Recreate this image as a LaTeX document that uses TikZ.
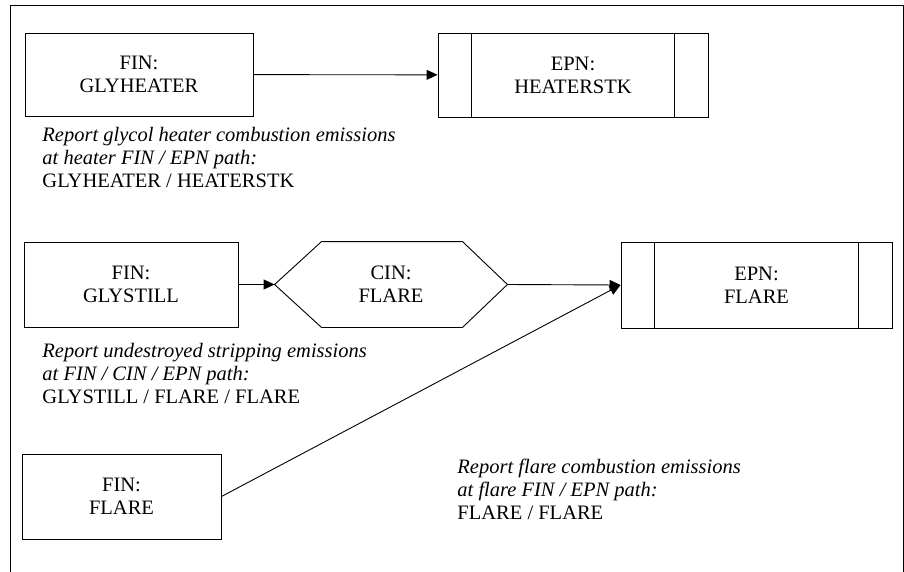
\documentclass[tikz,border=0pt]{standalone}
\usepackage{fontspec}
\setmainfont{Liberation Serif}
\usetikzlibrary{positioning, arrows.meta}

\begin{document}
\begin{tikzpicture}[
        x=1pt, y=-1pt,
        >={Triangle[length=11pt, width=10pt]},
        line width=0.9pt,
        fin/.style={draw, rectangle, align=center, inner sep=0pt, font=\fontsize{20.5}{23}\selectfont},
        epn/.style={fin},
        cin/.style={rectangle, align=center, inner sep=0pt, font=\fontsize{20.5}{23}\selectfont},
        note/.style={anchor=west, align=left, inner sep=0pt, font=\fontsize{20.5}{23}\selectfont},
    ]
    \useasboundingbox (0,0) rectangle (904,571);

        % Draw the outer frame
        \draw (903,580) -- (903,5) -- (10,5) -- (10,580);

        % Draw the source (FIN) boxes
        \node[fin, minimum width=228pt, minimum height=83pt] (FIN-heater) at (139,74.5) {FIN:\\GLYHEATER};
        \node[fin, minimum width=214pt, minimum height=85pt] (FIN-still) at (131,284.5) {FIN:\\GLYSTILL};
        \node[fin, minimum width=199pt, minimum height=85pt] (FIN-flare) at (121.5,496.5) {FIN:\\FLARE};

        % Draw the control (CIN) hexagon
        \node[cin, minimum width=232pt, minimum height=85pt] (CIN-flare) at (391,284.5) {CIN:\\FLARE};
        \draw (CIN-flare.west) -- ([xshift=47pt]CIN-flare.north west) -- ([xshift=-45pt]CIN-flare.north east)
            -- (CIN-flare.east) -- ([xshift=-45pt]CIN-flare.south east) -- ([xshift=47pt]CIN-flare.south west) -- cycle;

        % Draw the emission point (EPN) boxes
        \node[epn, minimum width=270pt, minimum height=84pt] (EPN-heater) at (573,75) {EPN:\\HEATERSTK};
        \node[epn, minimum width=271pt, minimum height=86pt] (EPN-flare) at (756.5,285) {EPN:\\FLARE};
        \foreach \name in {heater, flare} {
            \draw ([xshift=34pt]EPN-\name.north west) -- ([xshift=34pt]EPN-\name.south west);
            \draw ([xshift=-34pt]EPN-\name.north east) -- ([xshift=-34pt]EPN-\name.south east);
        }

        % Connect the paths
        \draw[->] (FIN-heater) -- (EPN-heater);
        \draw[->] (FIN-still) -- (CIN-flare.west);
        \draw[->] (CIN-flare.east) -- (EPN-flare.west);
        \draw[->] (FIN-flare.east) -- (EPN-flare.west);

        % Notes
        \node[note] (note-heater) at (42,157) {\textit{Report glycol heater combustion emissions}\\\textit{at heater FIN / EPN path:}\\GLYHEATER / HEATERSTK};
        \node[note] (note-still) at (42,373) {\textit{Report undestroyed stripping emissions}\\\textit{at FIN / CIN / EPN path:}\\GLYSTILL / FLARE / FLARE};
        \node[note] (note-flare) at (457,489) {\textit{Report flare combustion emissions}\\\textit{at flare FIN / EPN path:}\\FLARE / FLARE};
\end{tikzpicture}
\end{document}
